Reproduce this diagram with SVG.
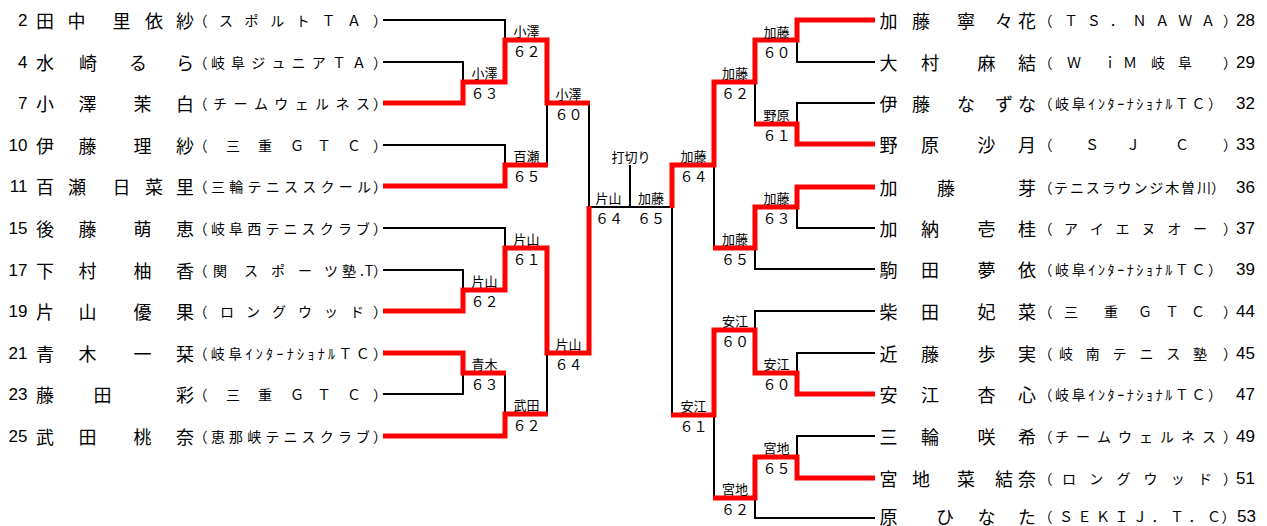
<svg xmlns="http://www.w3.org/2000/svg" width="1267" height="526" viewBox="0 0 1267 526">
<style>
.nm{font-family:"Noto Sans CJK JP","Noto Sans CJK SC",sans-serif;font-size:18px;fill:#000;text-anchor:middle;dominant-baseline:central}
.cl{font-family:"Noto Sans CJK JP","Noto Sans CJK SC",sans-serif;font-size:14px;fill:#000;text-anchor:middle;dominant-baseline:central}
.clt{font-family:"Noto Sans CJK JP","Noto Sans CJK SC",sans-serif;font-size:14px;fill:#000;dominant-baseline:central}
.no{font-family:"Liberation Sans",Arial,sans-serif;font-size:17px;fill:#000}
.nol{text-anchor:end}
.lb{font-family:"Noto Sans CJK JP","Noto Sans CJK SC",sans-serif;font-size:13px;fill:#000;text-anchor:middle;dominant-baseline:central}
.sc{font-family:"Noto Sans CJK JP","Noto Sans CJK SC",sans-serif;font-size:14px;fill:#000;text-anchor:middle;dominant-baseline:central}
.bk{fill:none;stroke:#000;stroke-width:2}
.rd{fill:none;stroke:#f00;stroke-width:5;stroke-linejoin:miter}
</style>
<rect width="1267" height="526" fill="#fff"/>
<g id="connectors">
<g class="bk">
<path d="M383,20H505V40"/>
<path d="M383,62H463V82"/>
<path d="M383,145H505V165"/>
<path d="M547,103V165"/>
<path d="M589,103V207H672"/>
<path d="M630,165V207"/>
<path d="M383,228H505V248"/>
<path d="M383,270H463V290"/>
<path d="M383,394H463V373"/>
<path d="M505,373V414"/>
<path d="M547,353V414"/>
<path d="M875,62H797V40"/>
<path d="M875,103H797V124"/>
<path d="M755,82V124"/>
<path d="M714,165V248"/>
<path d="M875,228H797V207"/>
<path d="M875,269H755V248"/>
<path d="M672,207V415"/>
<path d="M875,311H755V330"/>
<path d="M875,353H797V373"/>
<path d="M714,415V498"/>
<path d="M875,436H797V457"/>
<path d="M875,518H755V498"/>
</g>
<g class="rd">
<path d="M383,103H463V82H505V40H547V103H590"/>
<path d="M383,186H505V165H548"/>
<path d="M383,311H463V290H505V248H547V353H589V206"/>
<path d="M383,353H463V373H506"/>
<path d="M383,436H505V414H548"/>
<path d="M875,20H797V40H755V82H714V165H672V208"/>
<path d="M875,144H797V124H754"/>
<path d="M875,187H797V207H755V248H713"/>
<path d="M875,394H797V373H755V330H714V415H671"/>
<path d="M875,478H797V457H755V498H713"/>
</g>
</g>
<g id="p2"><text class="no nol" x="27.5" y="26">2</text><text class="nm" x="45 76.5 121.5 154 185" y="20">田中里依紗</text><text class="cl" x="200.5 226 251.6 277.2 302.8 328.4 354 380" y="20">（スポルトＴＡ）</text></g>
<g id="p4"><text class="no nol" x="27.5" y="68">4</text><text class="nm" x="45 88 138 185" y="62">水崎るら</text><text class="cl" x="200.5 218 238.1 258.3 278.4 298.6 318.7 338.9 359 380" y="62">（岐阜ジュニアＴＡ）</text></g>
<g id="p7"><text class="no nol" x="27.5" y="109">7</text><text class="nm" x="45 87.5 142.5 185" y="103">小澤茉白</text><text class="cl" x="200.5 220 240.4 260.9 281.3 301.7 322.1 342.6 363 380" y="103">（チームウェルネス）</text></g>
<g id="p10"><text class="no nol" x="27.5" y="151">10</text><text class="nm" x="45 87.5 142.5 185" y="145">伊藤理紗</text><text class="cl" x="200.5 233 265 297 324 354 380" y="145">（三重ＧＴＣ）</text></g>
<g id="p11"><text class="no nol" x="27.5" y="192">11</text><text class="nm" x="45 77 121.5 154 185" y="186">百瀬日菜里</text><text class="cl" x="200.5 218 236.25 254.5 272.75 291 309.25 327.5 345.75 364 380" y="186">（三輪テニススクール）</text></g>
<g id="p15"><text class="no nol" x="27.5" y="234">15</text><text class="nm" x="45 87.5 142.5 185" y="228">後藤萌恵</text><text class="cl" x="200.5 218 236.1 254.3 272.4 290.5 308.6 326.8 344.9 363 380" y="228">（岐阜西テニスクラブ）</text></g>
<g id="p17"><text class="no nol" x="27.5" y="276">17</text><text class="nm" x="45 87.5 142.5 185" y="270">下村柚香</text><text class="cl" x="200.5 220 251 278 305 331 349 362 369 380" y="270">（関スポーツ塾.T）</text></g>
<g id="p19"><text class="no nol" x="27.5" y="317">19</text><text class="nm" x="45 87.5 142.5 185" y="311">片山優果</text><text class="cl" x="200.5 227 253 279 305 331 357 380" y="311">（ロングウッド）</text></g>
<g id="p21"><text class="no nol" x="27.5" y="359">21</text><text class="nm" x="45 87.5 142.5 185" y="353">青木一栞</text><text class="clt" x="193.5" y="353" textLength="193.5" lengthAdjust="spacing">（岐阜ｲﾝﾀｰﾅｼｮﾅﾙＴＣ）</text></g>
<g id="p23"><text class="no nol" x="27.5" y="400">23</text><text class="nm" x="45 102.5 185" y="394">藤田彩</text><text class="cl" x="200.5 233 265 297 324 354 380" y="394">（三重ＧＴＣ）</text></g>
<g id="p25"><text class="no nol" x="27.5" y="442">25</text><text class="nm" x="45 87.5 142.5 185" y="436">武田桃奈</text><text class="cl" x="200.5 218 236.1 254.3 272.4 290.5 308.6 326.8 344.9 363 380" y="436">（恵那峡テニスクラブ）</text></g>
<g id="p28"><text class="nm" x="888.5 921 966 1004 1027" y="20">加藤寧々花</text><text class="cl" x="1045.5 1071 1093.8 1116.7 1139.5 1162.3 1185.2 1208 1230" y="20">（ＴＳ．ＮＡＷＡ）</text><text class="no" x="1236" y="26">28</text></g>
<g id="p29"><text class="nm" x="888.5 930 986.5 1027" y="62">大村麻結</text><text class="cl" x="1045.5 1074 1110 1130 1158 1185 1230" y="62">（ＷｉＭ岐阜）</text><text class="no" x="1236" y="68">29</text></g>
<g id="p32"><text class="nm" x="888.5 921 966 1004 1027" y="103">伊藤なずな</text><text class="clt" x="1038.5" y="103" textLength="183.5" lengthAdjust="spacing">（岐阜ｲﾝﾀｰﾅｼｮﾅﾙＴＣ）</text><text class="no" x="1236" y="109">32</text></g>
<g id="p33"><text class="nm" x="888.5 930 986.5 1027" y="144">野原沙月</text><text class="cl" x="1045.5 1092 1133 1182 1230" y="144">（ＳＪＣ）</text><text class="no" x="1236" y="150">33</text></g>
<g id="p36"><text class="nm" x="888.5 946 1027" y="187">加藤芽</text><text class="cl" x="1045.5 1061 1076.9 1092.8 1108.7 1124.6 1140.4 1156.3 1172.2 1188.1 1204 1218" y="187">（テニスラウンジ木曽川）</text><text class="no" x="1236" y="193">36</text></g>
<g id="p37"><text class="nm" x="888.5 930 986.5 1027" y="228">加納壱桂</text><text class="cl" x="1045.5 1071 1096.8 1122.6 1148.4 1174.2 1200 1230" y="228">（アイエヌオー）</text><text class="no" x="1236" y="234">37</text></g>
<g id="p39"><text class="nm" x="888.5 930 986.5 1027" y="269">駒田夢依</text><text class="clt" x="1038.5" y="269" textLength="183.5" lengthAdjust="spacing">（岐阜ｲﾝﾀｰﾅｼｮﾅﾙＴＣ）</text><text class="no" x="1236" y="275">39</text></g>
<g id="p44"><text class="nm" x="888.5 930 986.5 1027" y="311">柴田妃菜</text><text class="cl" x="1045.5 1071 1111 1145 1172 1198 1230" y="311">（三重ＧＴＣ）</text><text class="no" x="1236" y="317">44</text></g>
<g id="p45"><text class="nm" x="888.5 930 986.5 1027" y="353">近藤歩実</text><text class="cl" x="1045.5 1066 1092.8 1119.6 1146.4 1173.2 1200 1230" y="353">（岐南テニス塾）</text><text class="no" x="1236" y="359">45</text></g>
<g id="p47"><text class="nm" x="888.5 930 986.5 1027" y="394">安江杏心</text><text class="clt" x="1038.5" y="394" textLength="183.5" lengthAdjust="spacing">（岐阜ｲﾝﾀｰﾅｼｮﾅﾙＴＣ）</text><text class="no" x="1236" y="400">47</text></g>
<g id="p49"><text class="nm" x="888.5 930 986.5 1027" y="436">三輪咲希</text><text class="cl" x="1045.5 1062 1083 1104 1125 1146 1167 1188 1209 1230" y="436">（チームウェルネス）</text><text class="no" x="1236" y="442">49</text></g>
<g id="p51"><text class="nm" x="888.5 921 966 1004 1027" y="478">宮地菜結奈</text><text class="cl" x="1045.5 1069 1096.2 1123.4 1150.6 1177.8 1205 1230" y="478">（ロングウッド）</text><text class="no" x="1236" y="484">51</text></g>
<g id="p53"><text class="nm" x="888.5 945 986.5 1027" y="515.5">原ひなた</text><text class="cl" x="1045.5 1066 1084.5 1103 1121.5 1140 1158.5 1177 1195.5 1214 1228.5" y="516">（ＳＥＫＩＪ．Ｔ．Ｃ）</text><text class="no" x="1237" y="522">53</text></g>
<g id="m-l1"><text class="lb" x="484.5" y="72.5">小澤</text><text class="sc" x="484.5" y="93">６３</text></g>
<g id="m-l2"><text class="lb" x="526.5" y="30.5">小澤</text><text class="sc" x="526.5" y="51">６２</text></g>
<g id="m-l3"><text class="lb" x="526.5" y="155.5">百瀬</text><text class="sc" x="526.5" y="176">６５</text></g>
<g id="m-l4"><text class="lb" x="568.5" y="93.5">小澤</text><text class="sc" x="568.5" y="114">６０</text></g>
<g id="m-l5"><text class="lb" x="484.5" y="280.5">片山</text><text class="sc" x="484.5" y="301">６２</text></g>
<g id="m-l6"><text class="lb" x="526.5" y="238.5">片山</text><text class="sc" x="526.5" y="259">６１</text></g>
<g id="m-l7"><text class="lb" x="484.5" y="363.5">青木</text><text class="sc" x="484.5" y="384">６３</text></g>
<g id="m-l8"><text class="lb" x="526.5" y="404.5">武田</text><text class="sc" x="526.5" y="425">６２</text></g>
<g id="m-l9"><text class="lb" x="568.5" y="343.5">片山</text><text class="sc" x="568.5" y="364">６４</text></g>
<g id="m-final"><text class="lb" x="631" y="156">打切り</text><text class="lb" x="608.5" y="197">片山</text><text class="sc" x="609" y="218">６４</text><text class="lb" x="651" y="197">加藤</text><text class="sc" x="651" y="218">６５</text></g>
<g id="m-r1"><text class="lb" x="776.5" y="31.5">加藤</text><text class="sc" x="776.5" y="52">６０</text></g>
<g id="m-r2"><text class="lb" x="776.5" y="114.5">野原</text><text class="sc" x="776.5" y="135">６１</text></g>
<g id="m-r3"><text class="lb" x="735" y="72.5">加藤</text><text class="sc" x="735" y="93">６２</text></g>
<g id="m-r4"><text class="lb" x="776.5" y="197.5">加藤</text><text class="sc" x="776.5" y="218">６３</text></g>
<g id="m-r5"><text class="lb" x="735" y="238.5">加藤</text><text class="sc" x="735" y="259">６５</text></g>
<g id="m-r6"><text class="lb" x="693.5" y="155.5">加藤</text><text class="sc" x="693.5" y="176">６４</text></g>
<g id="m-r7"><text class="lb" x="735" y="320.5">安江</text><text class="sc" x="735" y="341">６０</text></g>
<g id="m-r8"><text class="lb" x="776.5" y="363.5">安江</text><text class="sc" x="776.5" y="384">６０</text></g>
<g id="m-r9"><text class="lb" x="693.5" y="405.5">安江</text><text class="sc" x="693.5" y="426">６１</text></g>
<g id="m-r10"><text class="lb" x="776.5" y="447.5">宮地</text><text class="sc" x="776.5" y="468">６５</text></g>
<g id="m-r11"><text class="lb" x="735" y="488.5">宮地</text><text class="sc" x="735" y="509">６２</text></g>
</svg>
